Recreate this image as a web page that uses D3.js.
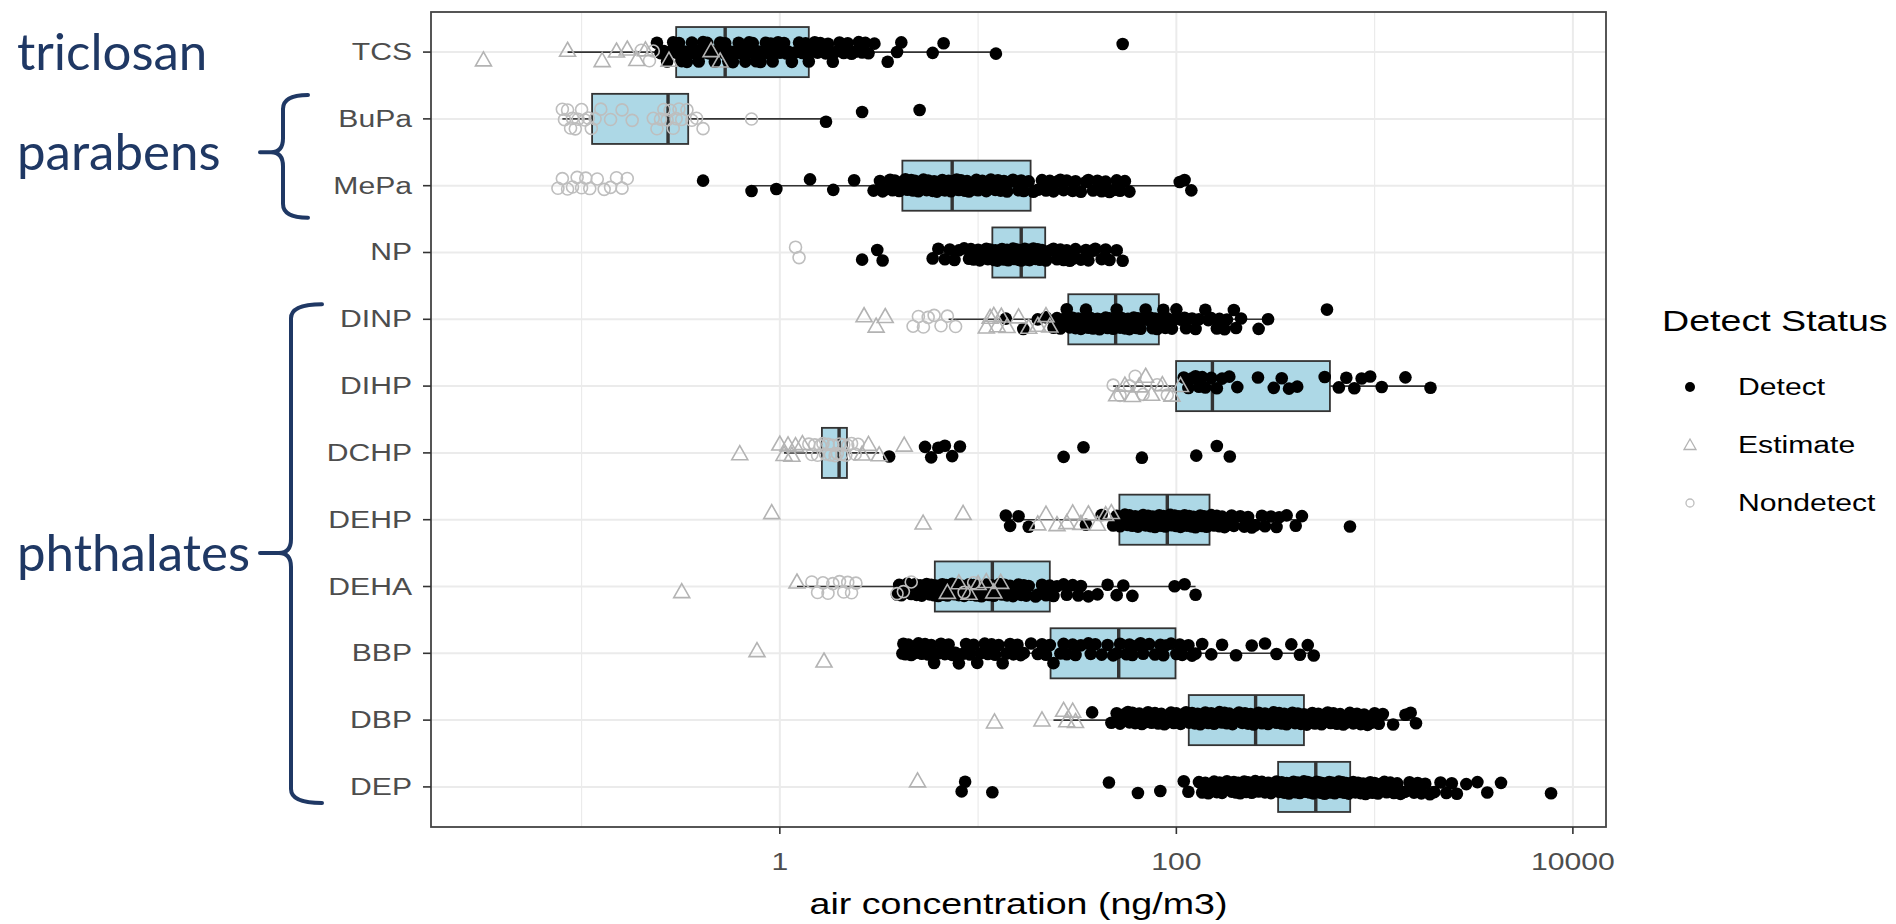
<!DOCTYPE html>
<html>
<head>
<meta charset="utf-8">
<script src="https://cdn.jsdelivr.net/npm/d3@7"></script>
<style>
  body { margin: 0; background: #fff; }
  svg { display: block; }
</style>
</head>
<body>
<svg id="chart" width="1896" height="924"></svg>
<script>
// compounds, top to bottom
const compounds = ["TCS", "BuPa", "MePa", "NP", "DINP", "DIHP", "DCHP", "DEHP", "DEHA", "BBP", "DBP", "DEP"];

// box plot stats (ng/m3), same order as compounds
const whiskerLo = [0.085, 0.08, 0.72, 5.9, 7.1, 48, 1.05, 14, 1.22, 4.15, 24, 130];
const q1        = [0.30, 0.113, 4.15, 11.8, 28.5, 99.7, 1.63, 51.6, 6.05, 23.2, 115.5, 326];
const medians   = [0.53, 0.273, 7.4, 16.5, 49.4, 152, 1.99, 90, 11.8, 51.2, 251, 505];
const q3        = [1.40, 0.345, 18.4, 21.8, 81.6, 595, 2.18, 147, 23, 99, 440, 753];
const whiskerHi = [12, 1.71, 119, 53.6, 290, 1914, 3.17, 430, 125, 493, 1617, 2600];

// individual samples by detect status
const detectVals = [
  [0.24,0.25,0.26,0.27,0.28,0.29,0.3,0.31,0.32,0.33,0.34,0.35,0.36,0.37,0.38,0.39,0.4,0.41,0.42,0.43,0.44,0.46,0.47,0.48,0.5,0.52,0.53,0.55,0.57,0.58,0.6,0.62,0.63,0.65,0.67,0.68,0.7,0.72,0.73,0.76,0.78,0.8,0.83,0.85,0.87,0.9,0.92,0.95,0.98,1.0,1.05,1.08,1.1,1.15,1.2,1.25,1.3,1.35,1.4,1.45,1.5,1.55,1.6,1.7,1.75,1.85,1.9,2.0,2.1,2.2,2.3,2.4,2.5,2.6,2.7,2.8,3.0,3.5,3.9,4.1,5.9,6.7,12.3,53.6],
  [1.71,2.6,5.07],
  [0.41,0.72,0.96,1.42,1.86,2.37,2.97,3.2,3.3,3.4,3.6,3.7,3.8,4.0,4.2,4.3,4.4,4.6,4.7,4.8,5.0,5.1,5.3,5.5,5.6,5.9,6.0,6.2,6.5,6.6,6.8,7.1,7.3,7.4,7.8,8.0,8.2,8.6,8.8,9.0,9.5,9.8,10,10.5,11,11.3,11.6,12.2,12.6,13,13.5,14,14.5,15,16,16.5,17,18,19,20,21,22,23,24,25,26,27,28,30,31,33,35,36,38,40,42,44,46,48,50,52,55,58,104,110,119],
  [2.6,3.1,3.3,5.9,6.3,6.8,7.2,7.6,8.0,8.5,9.0,9.2,9.5,10,10.2,10.5,11,11.2,11.5,12,12.2,12.5,13,13.2,13.5,14,14.2,14.5,15,15.2,15.5,16,16.2,16.5,17,17.2,17.5,18,18.2,18.5,19,19.5,20,20.5,21,22,23,24,25,26,27,28,29,30,31,33,35,36,38,39,42,44,46,50,53.6],
  [13.8,16.9,20,22,24,25,26,27,28,29,30,31,32,33,34,35,36,37,38,40,41,42,44,45,46,48,49,50,52,53,55,57,58,60,61,63,64,66,67,70,72,74,76,78,80,82,86,88,90,95,98,100,106,110,112,120,125,130,140,145,150,160,165,175,180,195,200,212,260,290,575],
  [109,115,120,125,130,135,140,150,160,170,185,203,258,310,340,370,407,560,660,720,790,860,950,1086,1430,1914],
  [3.56,5.4,5.8,6.3,6.8,7.4,8.1,27,34,67,126,160,186],
  [13.8,14.5,16,18,35,42,48,50,52,54,55,57,58,60,62,64,66,68,70,72,74,76,78,80,82,84,86,88,90,93,95,98,100,103,105,108,110,113,116,119,122,125,128,132,135,138,142,146,150,155,160,165,170,175,180,190,195,210,220,230,240,250,270,280,300,320,330,360,400,430,751],
  [3.9,4.0,4.1,4.3,4.4,4.6,4.8,4.9,5.1,5.2,5.4,5.5,5.7,5.8,6.0,6.1,6.3,6.4,6.6,6.7,6.9,7.0,7.2,7.4,7.6,7.8,8.0,8.2,8.5,8.7,9.0,9.2,9.5,9.8,10,10.4,10.8,11,11.4,11.7,12,12.4,12.8,13.2,13.6,14,14.5,15,15.5,16,16.5,17,17.5,18,19.5,20,21,22,23,24,25,27,28,30,32,33,36,40,45,50,54,60,98,110,125],
  [4.15,4.2,4.3,4.45,4.6,4.8,5.0,5.2,5.4,5.6,5.8,6.0,6.3,6.5,6.8,7.1,7.4,7.7,8.0,8.4,8.7,9.1,9.5,9.9,10.3,10.8,11.2,11.7,12.2,12.7,13.3,13.9,14.5,15.1,15.8,16.4,17,18.5,20,21,22,23,24,26,27,28,30,31,33,36,37,39,42,45,48,50,52,56,58,60,64,66,68,73,78,83,86,88,94,100,104,107,115,120,125,135,150,170,200,240,280,320,380,420,460,493],
  [37.6,47,50,52,55,57,58,60,62,65,67,70,72,75,78,81,84,87,90,94,97,100,105,108,112,116,120,124,128,132,136,140,145,150,155,160,165,170,175,180,185,192,200,207,215,222,230,237,245,252,260,270,280,290,300,310,320,330,340,350,360,372,385,397,410,425,440,455,470,485,500,520,540,560,580,600,620,645,670,695,720,750,780,815,850,885,920,960,1000,1050,1100,1240,1430,1520,1617],
  [8.26,8.6,11.8,45.7,64,83,109,115,130,135,140,145,150,155,160,165,170,175,180,190,195,200,205,210,215,220,225,230,240,245,250,260,270,280,290,300,310,320,330,340,350,360,370,380,390,400,410,420,430,440,450,460,470,480,490,500,510,520,530,540,550,560,575,590,600,615,630,645,660,675,690,705,720,740,760,780,800,825,850,875,900,925,950,975,1000,1040,1080,1120,1150,1200,1250,1300,1350,1420,1500,1580,1650,1720,1800,1900,2000,2150,2300,2450,2600,2900,3300,3700,4340,7760]
];
const estimateVals = [
  [0.032,0.085,0.127,0.15,0.17,0.19,0.21,0.276,0.45,0.5],
  [],
  [],
  [],
  [2.66,3.06,3.4,11,11.5,12,12.5,13.1,14,16,18,20,22,23],
  [50,55,60,65,70,75,85,95,105],
  [0.628,1.0,1.05,1.1,1.15,1.2,1.3,2.6,2.8,3.17,4.24],
  [0.91,5.28,8.4,20,22,25,28,30,33,36,40,44,47],
  [0.32,1.22,7,8,9,10,11,12,13],
  [0.767,1.67],
  [12.1,21,27,28,30,31],
  [4.95]
];
const nondetectVals = [
  [0.2,0.22,0.23],
  [0.08,0.082,0.085,0.088,0.09,0.093,0.096,0.1,0.104,0.108,0.112,0.117,0.125,0.14,0.16,0.18,0.23,0.24,0.25,0.26,0.27,0.28,0.29,0.3,0.31,0.32,0.34,0.36,0.38,0.41,0.72],
  [0.076,0.08,0.085,0.09,0.095,0.1,0.105,0.11,0.12,0.13,0.14,0.15,0.16,0.17],
  [1.2,1.25],
  [4.7,5.0,5.3,5.6,6.0,6.5,7.0,7.7],
  [48,52,58,62,68,80,90],
  [1.4,1.45,1.5,1.55,1.6,1.65,1.7,1.75,1.8,1.85,1.9,1.95,2.0,2.05,2.1,2.15,2.2,2.3,2.4,2.48],
  [],
  [1.45,1.55,1.65,1.75,1.85,2.0,2.1,2.2,2.3,2.42,3.9,4.2,4.6,8.5,9.5],
  [],
  [],
  []
];

// axis breaks
const xDomain = [0.0174, 14690];
const majorBreaks = [1, 100, 10000];
const minorBreaks = [0.1, 10, 1000];
const tickLabels = ["1", "100", "10000"];

// legend
const statuses = ["Detect", "Estimate", "Nondetect"];

// side annotations: label and the compounds the brace spans
const groups = [
  {label: "triclosan",  from: "TCS",  to: "TCS",  brace: false},
  {label: "parabens",   from: "BuPa", to: "MePa", brace: true},
  {label: "phthalates", from: "DINP", to: "DEP",  brace: true}
];

const svg = d3.select("#chart");
const panel = {left: 431, right: 1606, top: 12, bottom: 827};
const SX = 1.31;   // the source picture is stretched sideways
const font = "'Liberation Sans', Arial, sans-serif";
const navy = "#1F3864";

const x = d3.scaleLog().domain(xDomain).range([panel.left, panel.right]);
const y = d3.scalePoint().domain(compounds).range([panel.top, panel.bottom]).padding(0.6);
const step = y.step();

// stretched text helper
function label(g, tx, ty, txt, size, anchor, fill) {
  return g.append("text")
    .attr("transform", `translate(${tx},${ty}) scale(${SX},1)`)
    .attr("text-anchor", anchor)
    .attr("font-family", font)
    .attr("font-size", size)
    .attr("fill", fill)
    .text(txt);
}

// grid
const grid = svg.append("g");
grid.selectAll("line.minor")
  .data(minorBreaks)
  .join("line")
  .attr("x1", d => x(d)).attr("x2", d => x(d))
  .attr("y1", panel.top).attr("y2", panel.bottom)
  .attr("stroke", "#EBEBEB").attr("stroke-width", 1.2);
grid.selectAll("line.major")
  .data(majorBreaks)
  .join("line")
  .attr("x1", d => x(d)).attr("x2", d => x(d))
  .attr("y1", panel.top).attr("y2", panel.bottom)
  .attr("stroke", "#EBEBEB").attr("stroke-width", 2);
grid.selectAll("line.row")
  .data(compounds)
  .join("line")
  .attr("x1", panel.left).attr("x2", panel.right)
  .attr("y1", d => y(d)).attr("y2", d => y(d))
  .attr("stroke", "#EBEBEB").attr("stroke-width", 2);

// box plots
const boxes = compounds.map((c, i) => ({
  c: c, lo: whiskerLo[i], q1: q1[i], med: medians[i], q3: q3[i], hi: whiskerHi[i]
}));
const boxH = step * 0.75;
const gb = svg.append("g").attr("stroke", "#333333");

gb.selectAll("line.wlo")
  .data(boxes)
  .join("line")
  .attr("x1", d => x(d.lo)).attr("x2", d => x(d.q1))
  .attr("y1", d => y(d.c)).attr("y2", d => y(d.c))
  .attr("stroke-width", 1.6);
gb.selectAll("line.whi")
  .data(boxes)
  .join("line")
  .attr("x1", d => x(d.q3)).attr("x2", d => x(d.hi))
  .attr("y1", d => y(d.c)).attr("y2", d => y(d.c))
  .attr("stroke-width", 1.6);
gb.selectAll("rect")
  .data(boxes)
  .join("rect")
  .attr("x", d => x(d.q1))
  .attr("width", d => x(d.q3) - x(d.q1))
  .attr("y", d => y(d.c) - boxH / 2)
  .attr("height", boxH)
  .attr("fill", "#ADD8E6")
  .attr("stroke-width", 1.8);
gb.selectAll("line.med")
  .data(boxes)
  .join("line")
  .attr("x1", d => x(d.med)).attr("x2", d => x(d.med))
  .attr("y1", d => y(d.c) - boxH / 2).attr("y2", d => y(d.c) + boxH / 2)
  .attr("stroke-width", 3.4);

// points, with a fixed scrambled vertical spread so rows read like the jittered original
function spread(j, k) {
  const h = Math.imul(j * 31 + k * 97 + 11, 2654435761) >>> 0;
  return ((h % 1001) / 1000 - 0.5) * 2 * 0.15 * step;
}
const points = [];
compounds.forEach((c, i) => {
  detectVals[i].forEach((v, j) => points.push({c, v, s: "Detect", dy: spread(j, i)}));
  estimateVals[i].forEach((v, j) => points.push({c, v, s: "Estimate", dy: spread(j + 150, i + 3)}));
  nondetectVals[i].forEach((v, j) => points.push({c, v, s: "Nondetect", dy: spread(j + 190, i + 7)}));
});

const triangle = "M0,-8.5L8,5.5L-8,5.5Z";
const gp = svg.append("g");

gp.selectAll("circle.det")
  .data(points.filter(d => d.s === "Detect"))
  .join("circle")
  .attr("cx", d => x(d.v))
  .attr("cy", d => y(d.c) + d.dy)
  .attr("r", 6.3)
  .attr("fill", "#000");

gp.selectAll("circle.nd")
  .data(points.filter(d => d.s === "Nondetect"))
  .join("circle")
  .attr("cx", d => x(d.v))
  .attr("cy", d => y(d.c) + d.dy)
  .attr("r", 6)
  .attr("fill", "none")
  .attr("stroke", "#BEBEBE")
  .attr("stroke-width", 1.6);

gp.selectAll("path.est")
  .data(points.filter(d => d.s === "Estimate"))
  .join("path")
  .attr("d", triangle)
  .attr("transform", d => `translate(${x(d.v)},${y(d.c) + d.dy})`)
  .attr("fill", "none")
  .attr("stroke", "#B3B3B3")
  .attr("stroke-width", 1.6);

// panel border
svg.append("rect")
  .attr("x", panel.left).attr("y", panel.top)
  .attr("width", panel.right - panel.left)
  .attr("height", panel.bottom - panel.top)
  .attr("fill", "none")
  .attr("stroke", "#444")
  .attr("stroke-width", 1.8);

// y axis
const gy = svg.append("g");
gy.selectAll("line")
  .data(compounds)
  .join("line")
  .attr("x1", panel.left - 8).attr("x2", panel.left)
  .attr("y1", d => y(d)).attr("y2", d => y(d))
  .attr("stroke", "#333").attr("stroke-width", 1.6);
compounds.forEach(c => label(gy, panel.left - 19, y(c) + 8, c, 23, "end", "#4D4D4D"));

// x axis
const gx = svg.append("g");
gx.selectAll("line")
  .data(majorBreaks)
  .join("line")
  .attr("x1", d => x(d)).attr("x2", d => x(d))
  .attr("y1", panel.bottom).attr("y2", panel.bottom + 7)
  .attr("stroke", "#333").attr("stroke-width", 1.6);
majorBreaks.forEach((b, i) => label(gx, x(b), 870, tickLabels[i], 23, "middle", "#4D4D4D"));
label(gx, (panel.left + panel.right) / 2, 914, "air concentration (ng/m3)", 28.7, "middle", "#000");

// legend
const lg = svg.append("g");
label(lg, 1662, 331, "Detect Status", 28.7, "start", "#000");
statuses.forEach((s, i) => {
  const cy = 387 + i * 58;
  if (s === "Detect") {
    lg.append("circle").attr("cx", 1690).attr("cy", cy).attr("r", 5).attr("fill", "#000");
  } else if (s === "Estimate") {
    lg.append("path").attr("d", "M0,-6L6,4.5L-6,4.5Z")
      .attr("transform", `translate(1690,${cy})`)
      .attr("fill", "none").attr("stroke", "#B3B3B3").attr("stroke-width", 1.3);
  } else {
    lg.append("circle").attr("cx", 1690).attr("cy", cy).attr("r", 4)
      .attr("fill", "none").attr("stroke", "#BEBEBE").attr("stroke-width", 1.3);
  }
  label(lg, 1738, cy + 8, s, 23, "start", "#000");
});

// side annotations with braces
const ga = svg.append("g");
groups.forEach(gr => {
  const top = y(gr.from), bot = y(gr.to);
  const mid = (top + bot) / 2;
  ga.append("text")
    .attr("x", 17).attr("y", mid + 18)
    .attr("font-family", "Lato, 'Open Sans', sans-serif")
    .attr("font-size", 51)
    .attr("fill", navy)
    .text(gr.label);
  if (!gr.brace) return;
  const multi = bot - top > 200;
  const y0 = top - (multi ? 15 : 24);
  const y1 = bot + (multi ? 16 : 32);
  const spine = multi ? 291 : 283;
  const end = multi ? 322 : 308;
  const tip = 260, r = 14;
  const path = d3.path();
  path.moveTo(end, y0);
  path.quadraticCurveTo(spine, y0, spine, y0 + r);
  path.lineTo(spine, mid - r);
  path.quadraticCurveTo(spine, mid, spine - 12, mid);
  path.lineTo(tip, mid);
  path.moveTo(spine - 12, mid);
  path.quadraticCurveTo(spine, mid, spine, mid + r);
  path.lineTo(spine, y1 - r);
  path.quadraticCurveTo(spine, y1, end, y1);
  ga.append("path")
    .attr("d", path.toString())
    .attr("fill", "none")
    .attr("stroke", navy)
    .attr("stroke-width", 4)
    .attr("stroke-linecap", "round");
});
</script>
</body>
</html>
